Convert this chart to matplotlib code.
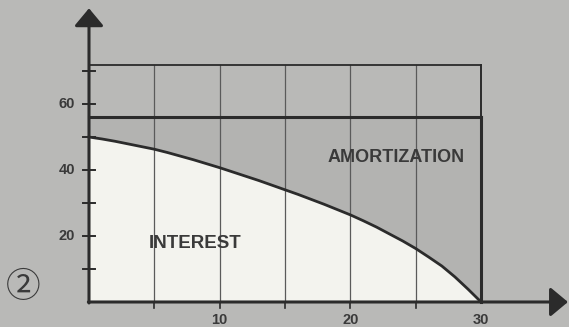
import matplotlib
matplotlib.use("Agg")
import matplotlib.pyplot as plt

# Loan term in years and the interest share of a level payment
years = list(range(0, 31))
interest = [50.0, 49.4, 48.7, 47.9, 47.1, 46.3, 45.3, 44.2, 43.1, 41.9,
            40.7, 39.4, 38.1, 36.8, 35.4, 34.0, 32.6, 31.1, 29.6, 28.0,
            26.4, 24.6, 22.7, 20.6, 18.5, 16.2, 13.6, 10.9, 7.6, 3.9, 0.0]
payment = 56
frame_top = 71.7
grid_years = [5, 10, 15, 20, 25]
y_ticks = [10, 20, 30, 40, 50, 60, 70]
y_labels = {20: "20", 40: "40", 60: "60"}
x_labels = {10: "10", 20: "20", 30: "30"}

BG = "#b9b9b7"
AMORT = "#b3b3b1"
WHITE = "#f3f3ee"
INK = "#2b2b2b"
GRID = "#5a5a5a"
TXT = "#3a3a3a"

fig = plt.figure(figsize=(5.69, 3.27), dpi=100)
fig.patch.set_facecolor(BG)
ax = fig.add_axes([0, 0, 1, 1])
ax.set_facecolor(BG)
ax.set_xlim(-6.81, 36.73)
ax.set_ylim(-7.58, 91.52)
ax.axis("off")

# shaded areas
ax.fill_between(years, interest, payment, color=AMORT, lw=0, zorder=1)
ax.fill_between(years, 0, interest, color=WHITE, lw=0, zorder=1)

# vertical grid lines
for g in grid_years:
    ax.plot([g, g], [0, frame_top], color=GRID, lw=0.9, zorder=2)

# frame top and payment level
ax.plot([0, 30], [frame_top, frame_top], color=INK, lw=1.3, zorder=3)
ax.plot([0, 30], [payment, payment], color=INK, lw=2.2, zorder=3)
ax.plot([30, 30], [payment, frame_top], color=INK, lw=1.4, zorder=3)
ax.plot([30, 30], [0, payment], color=INK, lw=2.2, zorder=3)

# interest curve
ax.plot(years, interest, color=INK, lw=2.0, zorder=4, solid_joinstyle="round")

# axes with arrow heads
arrow = dict(arrowstyle="-|>,head_length=0.6,head_width=0.5", mutation_scale=18,
             color=INK, lw=2.2, shrinkA=0, shrinkB=0)
ax.annotate("", xy=(0, 89.0), xytext=(0, -0.3), arrowprops=arrow, zorder=5)
ax.annotate("", xy=(36.65, 0), xytext=(-0.05, 0), arrowprops=arrow, zorder=5)

# tick marks
for t in y_ticks:
    ax.plot([-0.46, 0.46], [t, t], color=INK, lw=1.4, zorder=5)
for g in grid_years:
    ax.plot([g, g], [0, -1.8], color=INK, lw=1.2, zorder=5)

# tick labels
for v, s in y_labels.items():
    ax.text(-1.07, v, s, ha="right", va="center", fontsize=10.5,
            fontweight="bold", family="Liberation Sans", color=TXT)
for v, s in x_labels.items():
    ax.text(v, -5.5, s, ha="center", va="center", fontsize=10.5,
            fontweight="bold", family="Liberation Sans", color=TXT)

# region labels
ax.text(8.1, 17.6, "INTEREST", ha="center", va="center", fontsize=13.5,
        fontweight="bold", family="Liberation Sans", color=TXT, zorder=6)
ax.text(23.5, 43.8, "AMORTIZATION", ha="center", va="center", fontsize=13,
        fontweight="bold", family="Liberation Sans", color=TXT, zorder=6)

# figure number
ax.text(-5.0, 4.3, "②", ha="center", va="center", fontsize=25,
        family=["Noto Sans CJK JP", "DejaVu Sans"], color=TXT)

fig.savefig("out.png", dpi=100, facecolor=BG)
